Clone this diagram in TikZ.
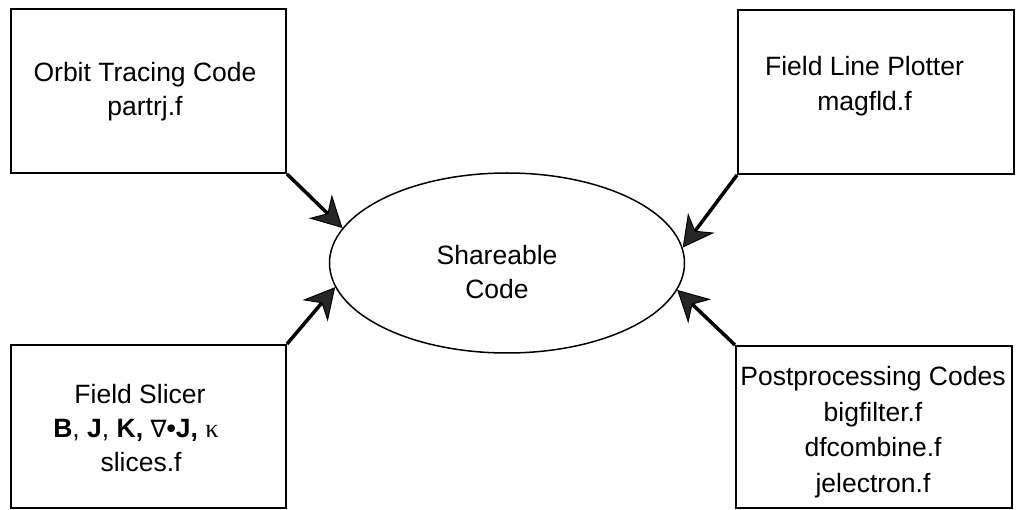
\documentclass[tikz,border=0pt]{standalone}
\usepackage{fontspec}
\setmainfont{Liberation Sans}
\newfontfamily\symfont{DejaVu Sans}
\newfontfamily\greekfont{Liberation Serif}
\usetikzlibrary{arrows.meta,shapes.geometric}
\begin{document}
\begin{tikzpicture}[x=1pt,y=-1pt,
  box/.style={draw=black,line width=2pt,rectangle,inner sep=0pt},
  oval/.style={draw=black,line width=1.5pt,ellipse,inner sep=0pt,minimum width=355pt,minimum height=180pt},
  txt/.style={anchor=base,inner sep=0pt,font=\fontsize{26.5}{32}\selectfont},
  arr/.style={draw=black,line width=3.5pt,-{Stealth[length=31pt,width=33pt,inset=10pt,line width=1pt,fill=black!85]}}
]
\useasboundingbox (0,0) rectangle (1017,510);
% boxes
\node[box,minimum width=275pt,minimum height=164pt] (tl) at (148.5,91) {};
\node[box,minimum width=276pt,minimum height=164pt] (tr) at (876,92) {};
\node[box,minimum width=275pt,minimum height=163pt] (bl) at (148.5,426.5) {};
\node[box,minimum width=276pt,minimum height=162pt] (br) at (874,427) {};
% ellipse
\node[oval] (ell) at (507,263) {};
% texts
\node[txt] (tl1) at (145,82) {Orbit Tracing Code};
\node[txt] (tl2) at (145,116) {partrj.f};
\node[txt] (tr1) at (864.5,76) {Field Line Plotter};
\node[txt] (tr2) at (864.5,111) {magfld.f};
\node[txt] (bl1) at (140,403) {Field Slicer};
\node[txt] (bl2) at (136,437) {{\bfseries B}, {\bfseries J}, {\bfseries K,} {\symfont\fontsize{24}{30}\selectfont ∇}{\bfseries •J,} {\greekfont κ}};
\node[txt] (bl3) at (141,471) {slices.f};
\node[txt] (br1) at (873,385) {Postprocessing Codes};
\node[txt] (br2) at (873,421) {bigfilter.f};
\node[txt] (br3) at (873,456) {dfcombine.f};
\node[txt] (br4) at (873,492) {jelectron.f};
\node[txt] (el1) at (497,265) {Shareable};
\node[txt] (el2) at (497,299) {Code};
% connectors
\draw[arr] (tl.south east) -- (ell.168.7);
\draw[arr] (tr.south west) -- (ell.5);
\draw[arr] (bl.north east) -- (ell.188.9);
\draw[arr] (br.north west) -- (ell.351.5);
\end{tikzpicture}
\end{document}
